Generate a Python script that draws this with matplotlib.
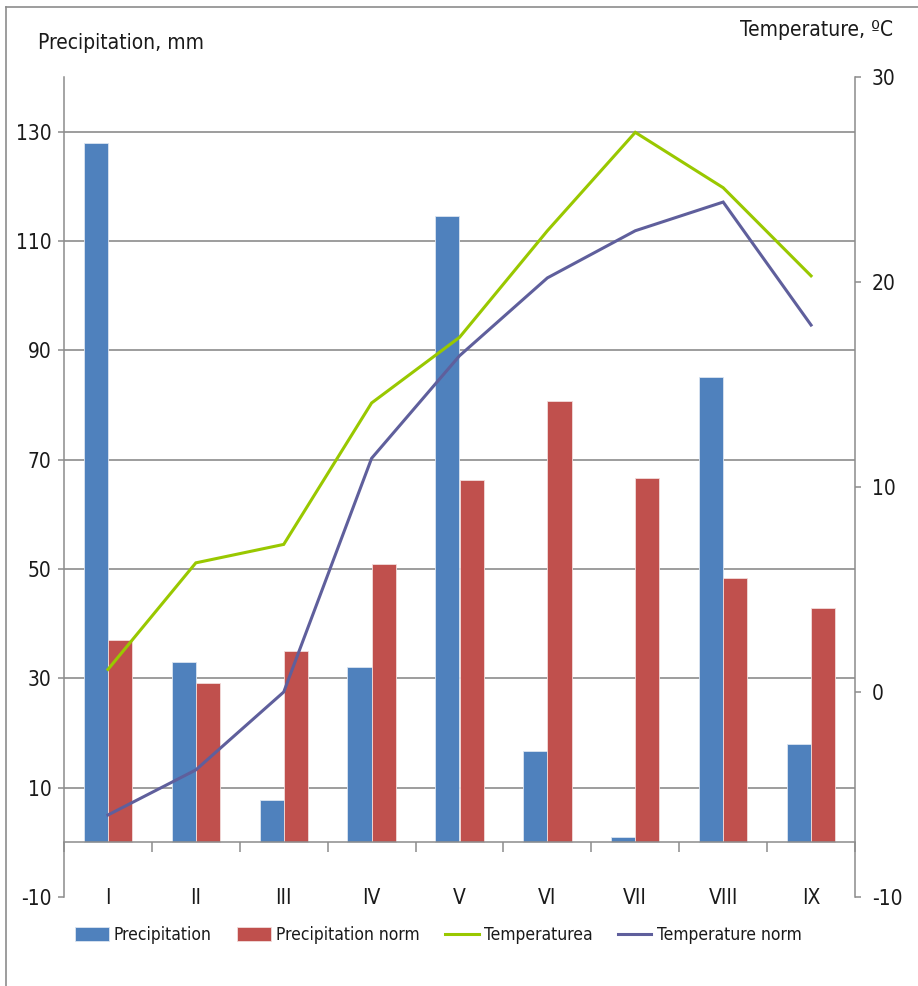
import matplotlib as mpl
import matplotlib.pyplot as plt
from matplotlib.lines import Line2D
import numpy as np

# monthly data, January to September
months = ['I', 'II', 'III', 'IV', 'V', 'VI', 'VII', 'VIII', 'IX']
precip = [128.0, 33.0, 7.7, 32.0, 114.5, 16.7, 1.0, 85.2, 18.0]
precip_norm = [37.0, 29.1, 35.0, 50.9, 66.2, 80.8, 66.6, 48.4, 42.9]
temp = [1.1, 6.3, 7.2, 14.1, 17.3, 22.5, 27.3, 24.6, 20.3]
temp_norm = [-6.0, -3.8, 0.0, 11.4, 16.4, 20.2, 22.5, 23.9, 17.9]

plt.rcParams['font.family'] = ['Liberation Sans Narrow', 'DejaVu Sans']
plt.rcParams['font.stretch'] = 'condensed'
plt.rcParams['font.size'] = 15
plt.rcParams['axes.linewidth'] = 1.1
plt.rcParams['axes.unicode_minus'] = False

axcol = '#8c8c8c'
txtcol = '#1a1a1a'
blue, red = '#4f81bd', '#c0504d'
green, purple = '#99c800', '#5f5f9c'

fig = plt.figure(figsize=(9.18, 9.86), dpi=100)
ax = fig.add_axes([64/918, 1-897/986, 791/918, 820/986])

x = np.arange(len(months))
w = 0.275
ax.bar(x - w/2, precip, w, color=blue, edgecolor='#dbe5f1', linewidth=0.6,
       label='Precipitation', zorder=2)
ax.bar(x + w/2, precip_norm, w, color=red, edgecolor='#f2dcdb', linewidth=0.6,
       label='Precipitation norm', zorder=2)

ax.set_xlim(-0.5, len(months) - 0.5)
ax.set_ylim(-10, 140)
ax.set_yticks(np.arange(-10, 131, 20))
ax.yaxis.grid(True, color=axcol, linewidth=1.2)
ax.set_axisbelow(True)
ax.yaxis.get_gridlines()[0].set_visible(False)

# category axis sits on zero
ax.spines['top'].set_visible(False)
ax.spines['right'].set_visible(False)
ax.spines['bottom'].set_position(('data', 0))
for s in ('left', 'bottom'):
    ax.spines[s].set_color(axcol)
ax.set_xticks(x)
ax.set_xticklabels(months)
ax.set_xticks(np.arange(-0.5, len(months)), minor=True)
ax.tick_params(axis='x', which='major', length=0, pad=33, colors=txtcol)
ax.tick_params(axis='x', which='minor', length=7, width=1.1, color=axcol)
ax.tick_params(axis='y', length=4, width=1.1, color=axcol, pad=5, labelcolor=txtcol)

ax2 = ax.twinx()
ax2.plot(x, temp, color=green, linewidth=2.2, label='Temperaturea', solid_joinstyle='miter')
ax2.plot(x, temp_norm, color=purple, linewidth=2.2, label='Temperature norm', solid_joinstyle='miter')
ax2.set_ylim(-10, 30)
ax2.set_yticks([-10, 0, 10, 20, 30])
for s in ('top', 'left', 'bottom'):
    ax2.spines[s].set_visible(False)
ax2.spines['right'].set_color(axcol)
ax2.tick_params(axis='y', length=4, width=1.1, color=axcol, pad=8, labelcolor=txtcol)

fig.text(38/918, 1-43/986, 'Precipitation, mm', ha='left', va='center', color=txtcol)
fig.text(893/918, 1-30/986, 'Temperature, ºC', ha='right', va='center', color=txtcol)

h1, l1 = ax.get_legend_handles_labels()
h2, l2 = ax2.get_legend_handles_labels()
fig.legend(h1 + h2, l1 + l2, loc='center', bbox_to_anchor=(438/918, 1-935/986),
           ncol=4, frameon=False, fontsize=12.5, handlelength=1.95, handleheight=0.86,
           handletextpad=0.3, columnspacing=1.45, labelcolor=txtcol)

# chart frame
fig.add_artist(Line2D([6/918, 6/918], [0, 1-7/986], color=axcol, linewidth=1.2))
fig.add_artist(Line2D([6/918, 1], [1-7/986, 1-7/986], color=axcol, linewidth=1.2))

plt.savefig('out.png', dpi=100)
